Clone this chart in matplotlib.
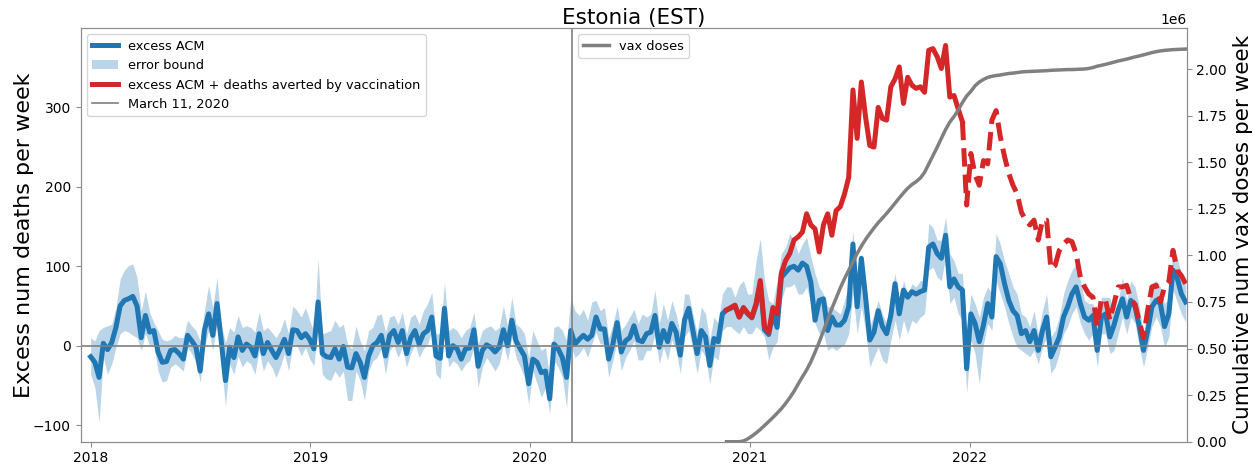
import numpy as np
import pandas as pd
import matplotlib
matplotlib.use("Agg")
import matplotlib.pyplot as plt
import matplotlib.dates as mdates
from matplotlib.patches import Patch
from matplotlib.lines import Line2D

# weekly series, first week starting 2018-01-01
week_start = "2018-01-01"

excess_acm = [
    -14, -21, -40, 3, -5, 4, 23, 50, 57, 59, 62, 50, 10, 38, 17, 19, -8, -21, -20, -6,
    -5, -10, -17, 13, 6, -2, -32, 19, 40, 13, 53, 6, -44, -2, -15, 11, -6, 2, -2, -13,
    15, -10, 4, -6, -15, -4, 8, -10, 20, 19, 10, 15, 8, -4, 55, -10, -14, -15, -4, -17,
    -1, -27, -28, -10,
    -21, -40, -13, 0, 4, 13, -13, 13, 19, 4, 19, -10, 10, 19, 2, 15, 19, 36, -13, -16,
    47, -13, 0, -4, -17, -4, -3, 20, -26, -6, 1, -2, -8, -2, 20, 0, 32, 6, -4, -13,
    -48, -17, -21, -34, -32, -67, 2, -4, -15, -40, 19, 2, 8, 13, 8, 13, 36, 21, 21, -17,
    2, 29, -8, 6, 10, 25,
    7, 5, 15, 17, 38, -2, 19, 5, 28, 17, -12, 32, 47, 19, -10, 19, 11, -25, 9, 5,
    40, 45, 47, 50, 36, 47, 40, 35, 51, 78, 20, 14, 40, 23,
    86, 92, 98, 100, 95, 104, 100, 80, 32, 57, 59, 19, 36, 26, 26, 32, 49, 128, 49, 110,
    61, 7, 17, 44, 24, 15, 38, 78, 40, 70, 61, 68, 65, 68, 70, 124, 128, 116, 110, 139,
    74, 84, 74,
    70, -29, 40, 28, 5, 26, 53, 36, 112, 103, 78, 57, 44, 38, 15, 19, 5, 19, -6, 19,
    36, -14, -2, 11, 36, 49, 65, 74, 53, 36, 32, 38, -6, 36, 40, 11, 26, 45, 59, 36,
    57, 49, 24, -6, 19, 49, 57, 53, 24, 40, 95, 85, 65, 55,
]

err_hi = [
    10, 6, 19, 23, 25, 27, 48, 84, 95, 101, 103, 86, 44, 69, 42, 29, 19, 8, 6, 8,
    13, 10, 10, 32, 25, 19, 6, 44, 76, 48, 86, 27, 4, 23, 17, 38, 23, 25, 23, 17,
    42, 19, 23, 17, 10, 19, 34, 15, 50, 44, 36, 48, 32, 17, 109, 15, 17, 19, 32, 23,
    27, 2, -4, 25,
    6, -6, 19, 23, 38, 40, 17, 36, 38, 27, 42, 15, 36, 40, 27, 44, 53, 67, 15, 15,
    80, 19, 23, 19, 10, 19, 23, 42, 2, 19, 23, 25, 19, 23, 50, 25, 61, 27, 23, 15,
    -15, 19, 6, -6, -2, -40, 23, 25, 19, 6, 59, 44, 38, 46, 32, 55, 57, 44, 48, 10,
    27, 50, 19, 27, 36, 46,
    28, 40, 36, 40, 70, 28, 53, 32, 57, 40, 15, 65, 65, 40, 15, 49, 40, 7, 36, 28,
    65, 74, 74, 61, 76, 82, 65, 65, 107, 135, 82, 57, 53, 82, 116, 124, 141, 133, 116, 128,
    137, 112, 91, 74, 65, 49, 49, 44, 40, 57, 78, 145, 65, 116, 82, 24, 40, 57, 40, 28,
    65, 91, 53, 82, 65, 78, 74,
    82, 82, 154, 149, 133, 133, 162, 116, 107, 91, 91, 15, 65, 53, 36, 61, 74, 65, 141, 128,
    107, 91, 74, 65, 40, 36, 24, 44, 15, 44, 65, 11, 19, 36, 65, 82, 95, 103, 82, 57,
    53, 53, 19, 61, 61, 61, 36, 57, 86, 57, 82, 74, 49, 15, 44, 78, 82, 74, 53, 60,
    124, 112, 90, 82,
]

err_lo = [
    -36, -53, -97, -15, -36, -23, -2, 15, 19, 17, 13, 10, -6, 15, 0, 2, -32, -46, -44, -27,
    -23, -27, -32, -2, -10, -21, -46, -2, 19, -6, 27, -23, -76, -23, -36, -13, -27, -19, -23, -36,
    -6, -32, -19, -27, -40, -27, -10, -32, 2, 0, -13, -2, -17, -25, 23, -36, -42, -44, -32, -40,
    -32, -69, -69, -32,
    -44, -69, -32, -19, -15, -4, -36, -6, 0, -15, -2, -27, -10, 2, -15, -4, 2, 19, -36, -42,
    19, -27, -19, -23, -32, -23, -19, -2, -53, -27, -15, -23, -32, -23, 2, -19, 10, -15, -27, -40,
    -74, -32, -48, -65, -53, -86, -19, -27, -40, -78, 0, -15, -10, -2, -15, 2, 17, 2, 2, -40,
    -19, 6, -32, -15, -6, 6,
    -18, -18, -6, -6, 15, -23, -2, -18, 7, -6, -35, 11, 19, -6, -35, -6, -14, -48, -14, -18,
    19, 24, 24, 19, 15, 24, 15, 15, 24, 19, 11, -18, -2, 5, 57, 74, 74, 78, 65, 65,
    74, 53, 28, 15, 15, -6, -2, -6, -2, 2, 15, 65, 15, 49, 19, -27, -14, -2, -18, -23,
    7, 32, 7, 32, 15, 32, 28,
    36, 40, 95, 99, 86, 82, 112, 53, 61, 40, 32, -60, 7, -10, -48, 2, 28, 19, 82, 65,
    49, 28, 11, -2, -6, -10, -14, -6, -23, -2, 11, -35, -27, -10, 15, 24, 40, 49, 28, 15,
    7, 15, -27, 15, 15, -10, -6, 15, 36, 15, 36, 28, -2, -27, -2, 24, 36, 24, -2, 11,
    70, 55, 40, 30,
]

# excess ACM + deaths averted by vaccination, from week 151 (Dec 2020)
averted_start = 151
averted_split = 207  # solid up to here, dashed afterwards
excess_plus_averted = [
    45, 48, 51, 36, 48, 41, 36, 53, 82, 24, 17, 48, 40, 91, 107, 116, 133, 137, 143, 166,
    152, 147, 118, 152, 166, 139, 170, 175, 191, 212, 322, 261, 332, 288, 252, 250, 300, 286, 284, 326,
    336, 351, 305, 338, 328, 324, 326, 319, 372, 374, 364, 349, 378, 313, 315, 298,
    282, 177, 242, 215, 202, 233, 229, 284, 296, 263, 238, 217, 202, 191, 168, 158, 152, 158, 133, 158,
    158, 97, 101, 120, 128, 133, 131, 116, 86, 74, 65, 61, 24, 59, 57, 32, 53, 74, 74, 76,
    58, 52, 30, 10, 45, 74, 76, 55, 74, 80, 120, 95, 88, 78,
]

# cumulative vaccine doses (millions), weekly from week 151
vax_start = 151
vax_doses_m = [
    0, 0, 0, 0, 0.004, 0.015, 0.03, 0.047, 0.066, 0.087,
    0.108, 0.13, 0.153, 0.177, 0.205, 0.236, 0.27, 0.31, 0.348, 0.385,
    0.428, 0.48, 0.535, 0.595, 0.655, 0.715, 0.77, 0.825, 0.875, 0.92,
    0.965, 1.01, 1.05, 1.085, 1.117, 1.147, 1.175, 1.2, 1.225, 1.252,
    1.28, 1.308, 1.335, 1.36, 1.38, 1.395, 1.415, 1.445, 1.49, 1.535,
    1.58, 1.628, 1.675, 1.715, 1.745, 1.78, 1.82, 1.855, 1.88, 1.91,
    1.93, 1.944, 1.955, 1.961, 1.965, 1.968, 1.972, 1.976, 1.978, 1.981,
    1.984, 1.986, 1.987, 1.988, 1.989, 1.99, 1.991, 1.993, 1.994, 1.995,
    1.996, 1.997, 1.997, 1.998, 1.999, 2.0, 2.003, 2.008, 2.015, 2.02,
    2.025, 2.031, 2.037, 2.043, 2.048, 2.053, 2.059, 2.065, 2.07, 2.076,
    2.082, 2.088, 2.093, 2.097, 2.1, 2.102, 2.104, 2.105, 2.106, 2.107,
]

pandemic_date = "2020-03-11"

dates = pd.date_range(week_start, periods=len(excess_acm), freq="7D")
red_dates = dates[averted_start:averted_start + len(excess_plus_averted)]
vax_dates = dates[vax_start:vax_start + len(vax_doses_m)]
red = np.array(excess_plus_averted, dtype=float)
n_solid = averted_split - averted_start + 1

plt.rcParams["axes.edgecolor"] = "#8c8c8c"
plt.rcParams["xtick.color"] = "#8c8c8c"
plt.rcParams["ytick.color"] = "#8c8c8c"
plt.rcParams["xtick.labelcolor"] = "black"
plt.rcParams["ytick.labelcolor"] = "black"

fig = plt.figure(figsize=(12.59, 4.66), dpi=100)
ax = fig.add_axes([0.0641, 0.0521, 0.8785, 0.8878])

ax.fill_between(dates, err_lo, err_hi, color="tab:blue", alpha=0.3, lw=0)
ax.plot(dates, excess_acm, color="tab:blue", lw=3.6)
ax.plot(red_dates[:n_solid], red[:n_solid], color="tab:red", lw=3.6)
ax.plot(red_dates[n_solid - 1:], red[n_solid - 1:], color="tab:red", lw=3.6, ls="--")
ax.axhline(0, color="gray", lw=1.2)
ax.axvline(pd.Timestamp(pandemic_date), color="gray", lw=1.2)

ax.set_xlim(pd.Timestamp("2017-12-15 10:00"), pd.Timestamp("2022-12-27 20:00"))
ax.set_ylim(-121, 400)
ax.set_yticks([-100, 0, 100, 200, 300])
ax.xaxis.set_major_locator(mdates.YearLocator())
ax.xaxis.set_major_formatter(mdates.DateFormatter("%Y"))
ax.tick_params(labelsize=10)
ax.set_ylabel("Excess num deaths per week", fontsize=16)
ax.yaxis.set_label_coords(-0.042, 0.5)
ax.set_title("Estonia (EST)", fontsize=15.5, pad=3)

handles = [
    Line2D([], [], color="tab:blue", lw=3.6),
    Patch(color="tab:blue", alpha=0.3, lw=0),
    Line2D([], [], color="tab:red", lw=3.6),
    Line2D([], [], color="gray", lw=1.2),
]
labels = ["excess ACM", "error bound", "excess ACM + deaths averted by vaccination",
          "March 11, 2020"]
ax.legend(handles, labels, loc="upper left", fontsize=9.3)

ax2 = ax.twinx()
ax2.plot(vax_dates, np.array(vax_doses_m) * 1e6, color="gray", lw=2.5, label="vax doses")
ax2.set_ylim(0, 2.22e6)
ax2.tick_params(labelsize=10)
ax2.yaxis.get_offset_text().set_fontsize(10)
ax2.set_ylabel("Cumulative num vax doses per week", fontsize=15.5)
ax2.legend(loc="upper center", fontsize=9.3)

fig.savefig("out.png", dpi=100)
